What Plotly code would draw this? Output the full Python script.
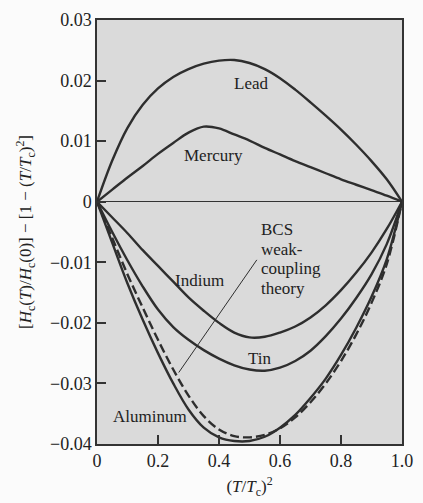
import plotly.graph_objects as go

# ---- data ----
x_grid = [0, 0.05, 0.1, 0.15, 0.2, 0.25, 0.3, 0.35, 0.4, 0.45, 0.5,
          0.55, 0.6, 0.65, 0.7, 0.75, 0.8, 0.85, 0.9, 0.95, 1.0]

y_lead = [0, 0.0068, 0.0122, 0.0160, 0.0187, 0.0206, 0.0219, 0.0228, 0.0233, 0.0234, 0.0229,
          0.0219, 0.0204, 0.0185, 0.0164, 0.0142, 0.0119, 0.0094, 0.0067, 0.0037, 0]
y_merc = [0, 0.0020, 0.0040, 0.0059, 0.0079, 0.0097, 0.0114, 0.0124, 0.0121, 0.0111, 0.0101,
          0.0089, 0.0078, 0.0067, 0.0057, 0.0047, 0.0037, 0.0028, 0.0019, 0.0010, 0]
y_ind = [0, -0.0026, -0.0052, -0.0080, -0.0106, -0.0132, -0.0158, -0.0180, -0.0200, -0.0216, -0.0224,
         -0.0223, -0.0216, -0.0206, -0.0191, -0.0171, -0.0146, -0.0117, -0.0084, -0.0045, 0]
y_tin = [0, -0.0050, -0.0097, -0.0140, -0.0178, -0.0207, -0.0228, -0.0245, -0.0259, -0.0270, -0.0277,
         -0.0279, -0.0274, -0.0263, -0.0246, -0.0222, -0.0193, -0.0159, -0.0120, -0.0070, 0]
y_al = [0, -0.0068, -0.0135, -0.0195, -0.0250, -0.0300, -0.0343, -0.0373, -0.0389, -0.0395, -0.0395,
        -0.0388, -0.0373, -0.0352, -0.0324, -0.0292, -0.0253, -0.0208, -0.0157, -0.0095, 0]
y_bcs = [0, -0.0060, -0.0120, -0.0175, -0.0228, -0.0277, -0.0320, -0.0354, -0.0376, -0.0387, -0.0389,
         -0.0385, -0.0374, -0.0356, -0.0331, -0.0300, -0.0263, -0.0219, -0.0167, -0.0103, 0]

x_ticks = [0, 0.2, 0.4, 0.6, 0.8, 1.0]
x_ticktext = ["0", "0.2", "0.4", "0.6", "0.8", "1.0"]
y_ticks = [-0.04, -0.03, -0.02, -0.01, 0, 0.01, 0.02, 0.03]
y_ticktext = ["\u22120.04", "\u22120.03", "\u22120.02", "\u22120.01", "0", "0.01", "0.02", "0.03"]

pointer_x = [0.524, 0.268]
pointer_y = [-0.0096, -0.0282]

FONT = "Liberation Serif"
LINE = "#2e2e2e"

fig = go.Figure()
for ys in [y_lead, y_merc, y_ind, y_tin, y_al]:
    fig.add_trace(go.Scatter(x=x_grid, y=ys, mode="lines",
                             line=dict(color=LINE, width=2.4, shape="spline", smoothing=1.0),
                             hoverinfo="skip", showlegend=False))
fig.add_trace(go.Scatter(x=x_grid, y=y_bcs, mode="lines",
                         line=dict(color=LINE, width=2.4, dash="9px,4px", shape="spline", smoothing=1.0),
                         hoverinfo="skip", showlegend=False))
fig.add_trace(go.Scatter(x=pointer_x, y=pointer_y, mode="lines", line=dict(color=LINE, width=1),
                         hoverinfo="skip", showlegend=False))

labels = [
    ("Lead", 0.505, 0.0195, "center"),
    ("Mercury", 0.381, 0.0076, "center"),
    ("Indium", 0.337, -0.0130, "center"),
    ("Tin", 0.533, -0.0259, "center"),
    ("Aluminum", 0.174, -0.0355, "center"),
    ("BCS", 0.530, -0.0046, "left"),
    ("weak-", 0.530, -0.0079, "left"),
    ("coupling", 0.530, -0.0111, "left"),
    ("theory", 0.530, -0.0143, "left"),
]
for text, lx, ly, anchor in labels:
    fig.add_annotation(x=lx, y=ly, text=text, showarrow=False, xanchor=anchor, yanchor="middle",
                       font=dict(family=FONT, size=17, color="#222"))

fig.update_layout(
    width=423, height=503,
    margin=dict(l=97, r=10, t=12, b=58),
    paper_bgcolor="#fbfbfb",
    plot_bgcolor="#dadada",
    font=dict(family=FONT, size=18, color="#222"),
)
fig.update_xaxes(range=[0, 1.0], tickvals=x_ticks, ticktext=x_ticktext, ticks="inside", ticklen=9,
                 tickwidth=1.5, tickcolor="#333", showgrid=False, zeroline=False,
                 tickfont=dict(family=FONT, size=18), ticklabeloverflow="allow",
                 showline=True, linecolor="#333", linewidth=1.5, mirror=True,
                 title=dict(text="(<i>T</i>/<i>T</i><sub>c</sub>)<sup>2</sup>", font=dict(family=FONT, size=17),
                            standoff=10))
fig.update_yaxes(range=[-0.04, 0.03], tickvals=y_ticks, ticktext=y_ticktext, ticks="inside", ticklen=9,
                 tickwidth=1.5, tickcolor="#333", showgrid=False,
                 tickfont=dict(family=FONT, size=18),
                 zeroline=True, zerolinecolor="#333", zerolinewidth=1.2,
                 showline=True, linecolor="#333", linewidth=1.5, mirror=True,
                 title=dict(text="[<i>H</i><sub>c</sub>(<i>T</i>)/<i>H</i><sub>c</sub>(0)] \u2212 [1 \u2212 (<i>T</i>/<i>T</i><sub>c</sub>)<sup>2</sup>]",
                            font=dict(family=FONT, size=17), standoff=14))

fig.write_html("out.html")
